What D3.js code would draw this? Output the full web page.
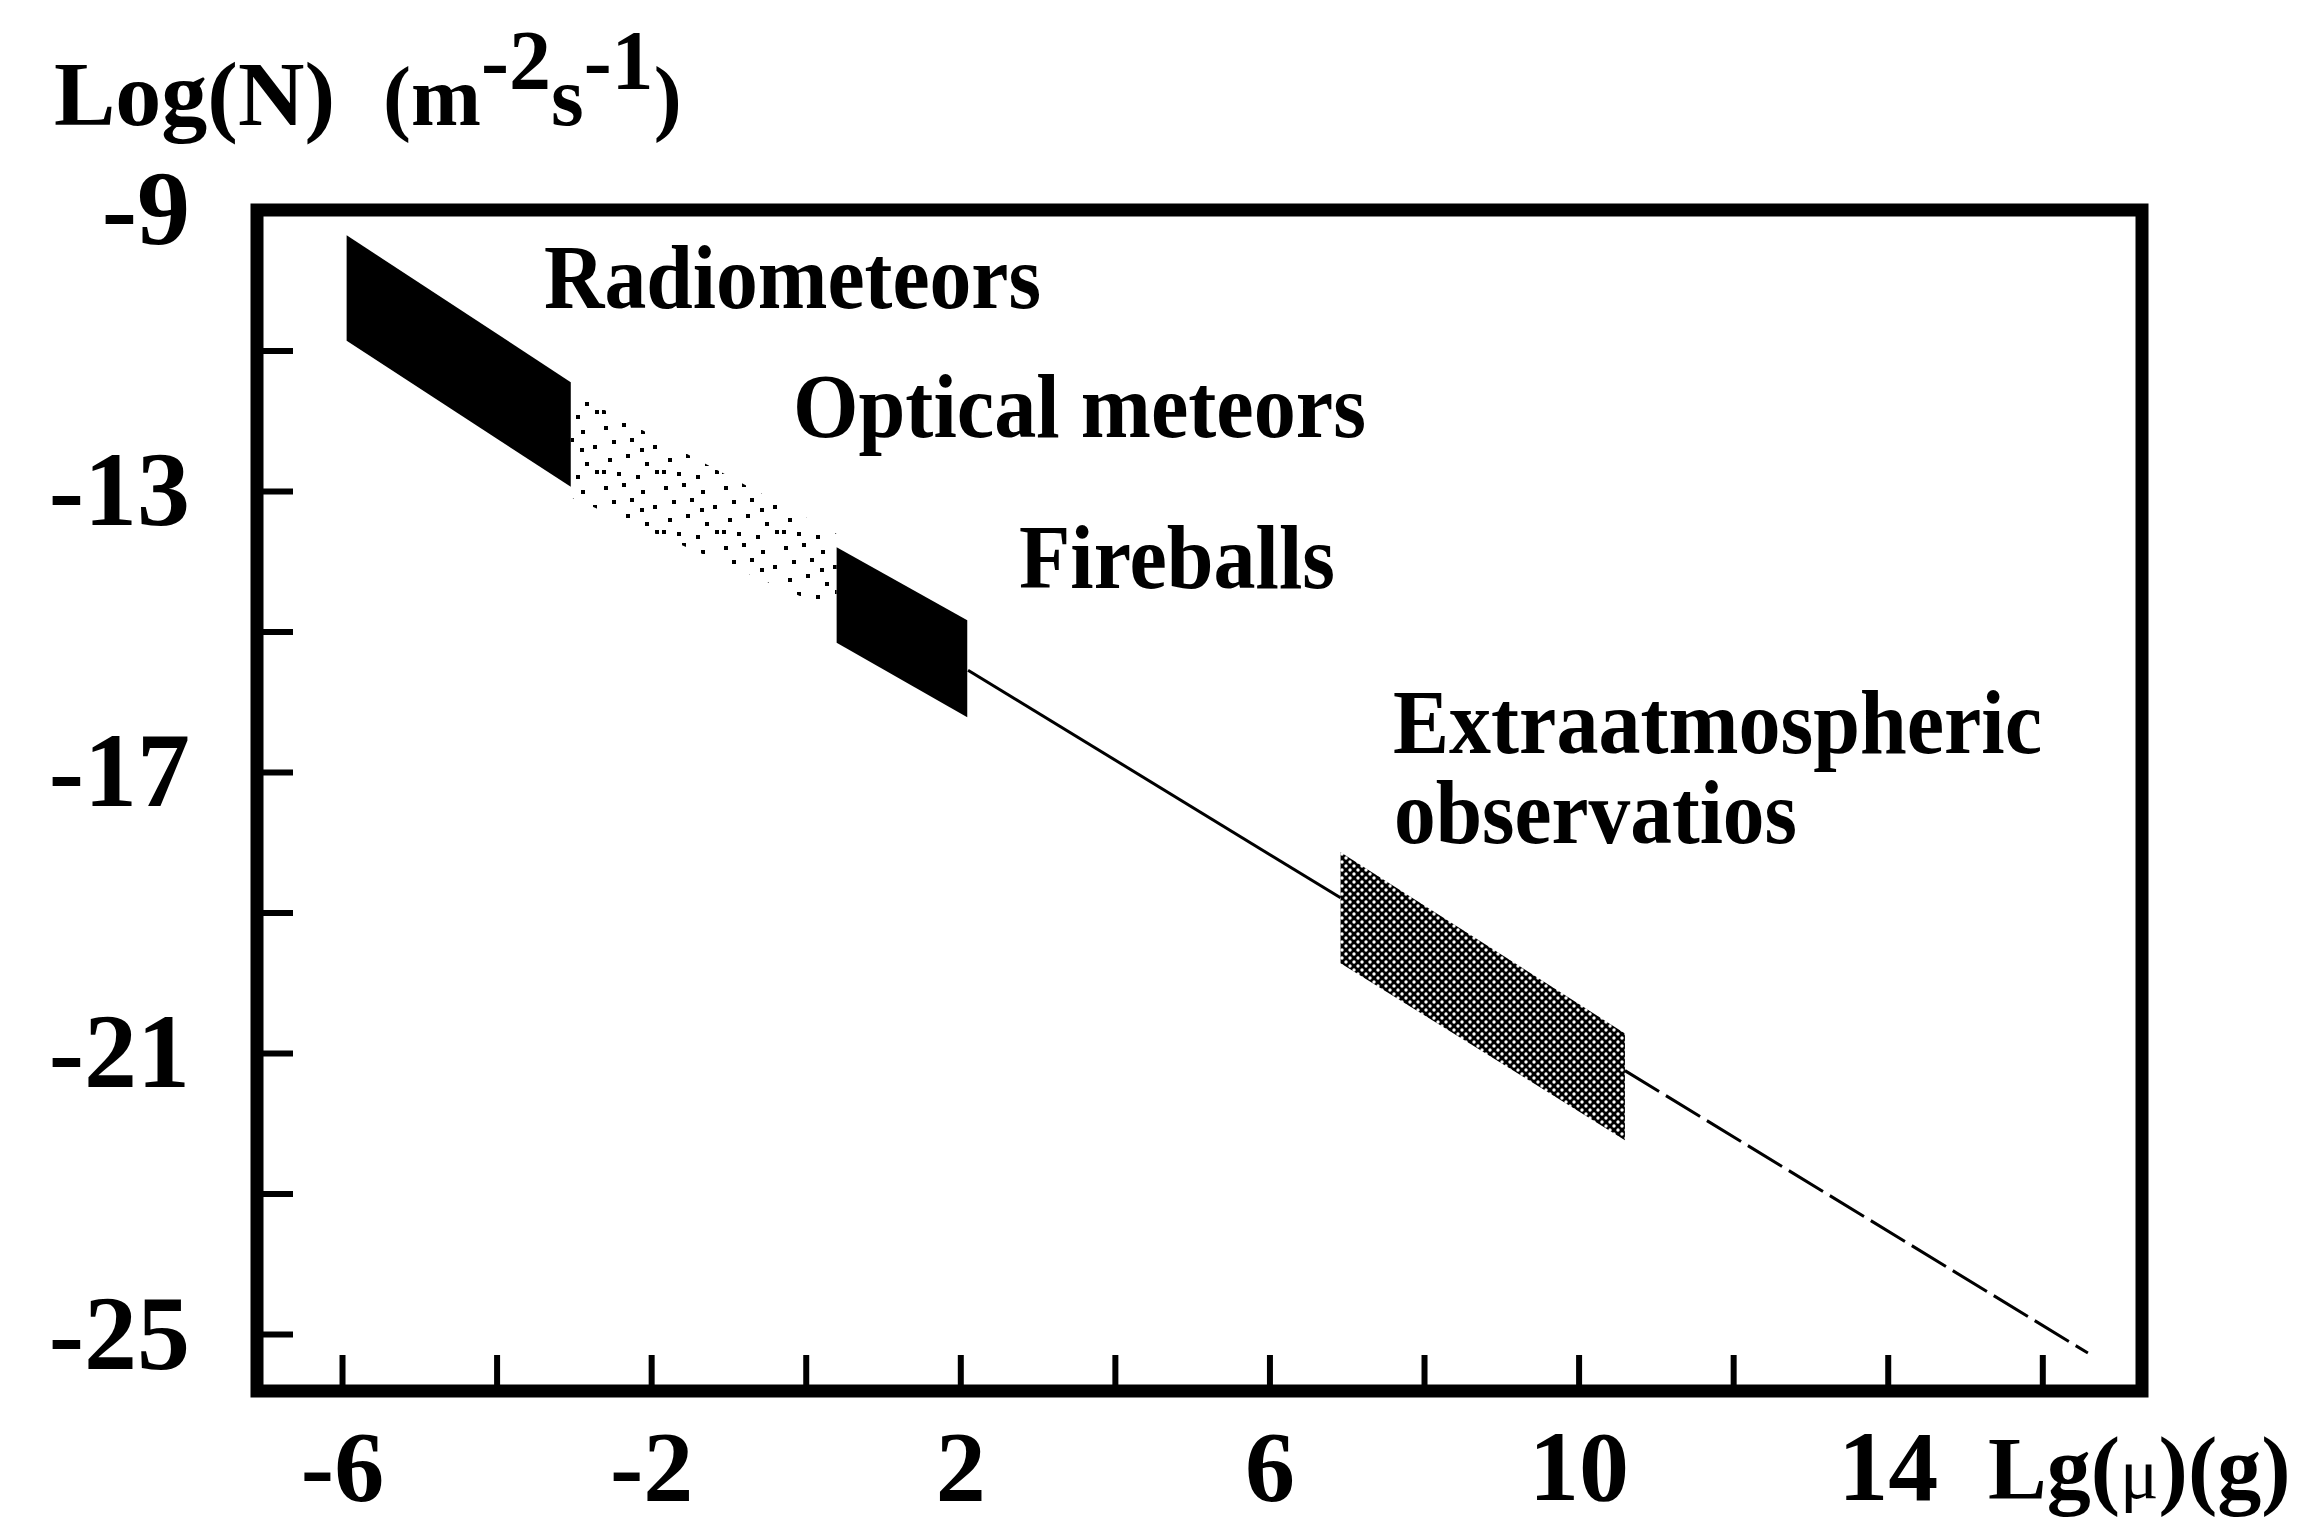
<!DOCTYPE html>
<html>
<head>
<meta charset="utf-8">
<script src="https://cdn.jsdelivr.net/npm/d3@7"></script>
<style>
  body { margin: 0; background: #fff; }
  svg { display: block; }
</style>
</head>
<body>
<div id="chart"></div>
<script>
// ticks and labels
const xTicks = [-6, -4, -2, 0, 2, 4, 6, 8, 10, 12, 14, 16];
const xLabels = [-6, -2, 2, 6, 10, 14];
const yTicks = [-25, -23, -21, -19, -17, -15, -13, -11, -9];
const yLabels = [-25, -21, -17, -13, -9];

// bands (parallelograms): x range, top/bottom at left edge and at right edge
const bandNames = ["Radiometeors", "Optical meteors", "Fireballs", "Extraatmospheric"];
const bandX0 = [-5.94, -3.04, 0.40, 6.92];
const bandX1 = [-3.04, 0.40, 2.09, 10.60];
const bandTop0 = [-9.36, -11.59, -13.80, -18.14];
const bandBot0 = [-10.86, -13.09, -15.16, -19.72];
const bandTop1 = [-11.45, -13.61, -14.84, -20.72];
const bandBot1 = [-12.94, -14.72, -16.22, -22.24];

// power law line pieces
const lineSolid = [[2.10, -15.55], [6.92, -18.79]];
const lineDashed = [[10.60, -21.25], [16.59, -25.27]];

//dimensions
const W = 2304, H = 1525;
const frame = { left: 257, right: 2142, top: 210, bottom: 1391 };
const serif = "'Liberation Serif', 'Times New Roman', 'DejaVu Serif', serif";

const svg = d3.select("#chart")
    .append("svg")
    .attr("width", W)
    .attr("height", H)
    .style("background", "#fff");

//scales
const x = d3.scaleLinear().domain([-7.1, 17.29]).range([frame.left, frame.right]);
const y = d3.scaleLinear().domain([-25.81, -9]).range([frame.bottom, frame.top]);

//fill patterns
const defs = svg.append("defs");
const stip = defs.append("pattern")
    .attr("id", "stipple")
    .attr("patternUnits", "userSpaceOnUse")
    .attr("width", 60).attr("height", 60);
[[4, 6], [22, 3], [41, 10], [53, 25], [12, 20], [30, 18], [8, 38], [26, 34],
 [45, 42], [17, 52], [36, 55], [55, 50], [40, 28], [2, 50]].forEach(p => {
    stip.append("rect").attr("x", p[0]).attr("y", p[1])
        .attr("width", 4).attr("height", 4).attr("fill", "#000");
});
const half = defs.append("pattern")
    .attr("id", "halftone")
    .attr("patternUnits", "userSpaceOnUse")
    .attr("width", 8).attr("height", 8);
half.append("rect").attr("width", 8).attr("height", 8).attr("fill", "#000");
half.append("circle").attr("cx", 2).attr("cy", 2).attr("r", 1.7).attr("fill", "#fff");
half.append("circle").attr("cx", 6).attr("cy", 6).attr("r", 1.7).attr("fill", "#fff");

const bandFill = ["#000", "url(#stipple)", "#000", "url(#halftone)"];

//bands
svg.append("g").selectAll("path")
    .data(bandNames)
    .join("path")
    .attr("d", (d, i) => "M" + [
        [x(bandX0[i]), y(bandTop0[i])],
        [x(bandX1[i]), y(bandTop1[i])],
        [x(bandX1[i]), y(bandBot1[i])],
        [x(bandX0[i]), y(bandBot0[i])]
    ].join("L") + "Z")
    .attr("fill", (d, i) => bandFill[i]);

//line
const line = d3.line().x(d => x(d[0])).y(d => y(d[1]));
svg.append("path").attr("d", line(lineSolid))
    .attr("fill", "none").attr("stroke", "#000").attr("stroke-width", 3);
svg.append("path").attr("d", line(lineDashed))
    .attr("fill", "none").attr("stroke", "#000").attr("stroke-width", 3)
    .attr("stroke-dasharray", "40,8");

//axes
const yaxis = d3.axisLeft(y)
    .tickValues(yTicks)
    .tickSize(-36)
    .tickPadding(67)
    .tickFormat(d => yLabels.includes(d) ? d : "");
const xaxis = d3.axisBottom(x)
    .tickValues(xTicks)
    .tickSize(-36)
    .tickPadding(38)
    .tickFormat(d => xLabels.includes(d) ? d : "");

const ygrp = svg.append("g")
    .attr("transform", `translate(${frame.left},0)`)
    .call(yaxis);
const xgrp = svg.append("g")
    .attr("transform", `translate(0,${frame.bottom})`)
    .call(xaxis);

[ygrp, xgrp].forEach(g => {
    g.select(".domain").remove();
    g.selectAll(".tick line").attr("stroke", "#000").attr("stroke-width", 6);
    g.selectAll(".tick text")
        .attr("fill", "#000")
        .attr("font-family", serif)
        .attr("font-weight", "bold")
        .attr("font-size", 106);
});
xgrp.selectAll(".tick text").attr("font-size", 100);
// hyphen like the original
ygrp.selectAll(".tick text").text(d => yLabels.includes(d) ? String(d).replace("\u2212", "-") : "");
xgrp.selectAll(".tick text").text(d => xLabels.includes(d) ? String(d).replace("\u2212", "-") : "");

//frame
svg.append("rect")
    .attr("x", frame.left).attr("y", frame.top)
    .attr("width", frame.right - frame.left)
    .attr("height", frame.bottom - frame.top)
    .attr("fill", "none")
    .attr("stroke", "#000")
    .attr("stroke-width", 13);

//band labels
const labelText = ["Radiometeors", "Optical meteors", "Fireballs", "Extraatmospheric", "observatios"];
const labelPos = [[544, 308, 497], [793, 437, 573], [1019, 588, 316], [1393, 753, 649], [1394, 843, 403]];
svg.append("g").selectAll("text")
    .data(labelText)
    .join("text")
    .text(d => d)
    .attr("x", (d, i) => labelPos[i][0])
    .attr("y", (d, i) => labelPos[i][1])
    .attr("textLength", (d, i) => labelPos[i][2])
    .attr("lengthAdjust", "spacingAndGlyphs")
    .attr("font-family", serif)
    .attr("font-weight", "bold")
    .attr("font-size", 90)
    .attr("fill", "#000");

//y axis title
const yt = svg.append("text")
    .attr("x", 54).attr("y", 125)
    .attr("font-family", serif)
    .attr("font-weight", "bold")
    .attr("fill", "#000");
yt.append("tspan").attr("font-size", 92).text("Log(N)");
yt.append("tspan").attr("x", 383).attr("font-size", 84).text("(m");
yt.append("tspan").attr("font-size", 84).attr("dy", -36).text("-2");
yt.append("tspan").attr("font-size", 84).attr("dy", 36).text("s");
yt.append("tspan").attr("font-size", 84).attr("dy", -36).text("-1");
yt.append("tspan").attr("font-size", 84).attr("dy", 36).text(")");

//x axis title
const xt = svg.append("text")
    .attr("x", 1988).attr("y", 1498)
    .attr("font-family", serif)
    .attr("font-weight", "bold")
    .attr("font-size", 88)
    .attr("fill", "#000");
xt.append("tspan").text("Lg(");
xt.append("tspan").attr("font-weight", "normal").attr("font-size", 72).text("\u03bc");
xt.append("tspan").text(")(g)");
</script>
</body>
</html>
